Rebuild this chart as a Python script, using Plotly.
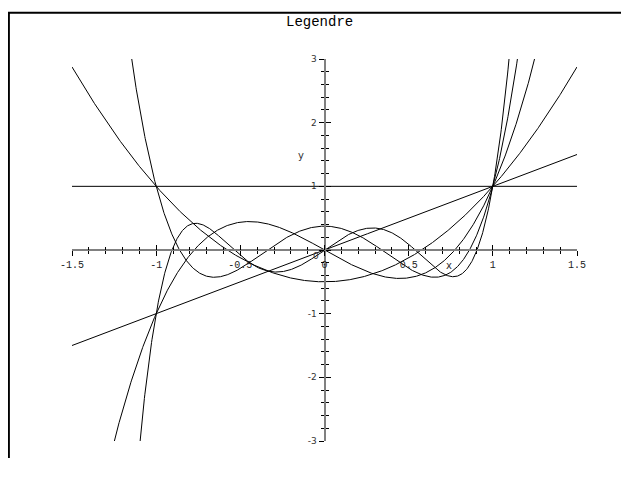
import numpy as np
import plotly.graph_objects as go

# Legendre polynomials P0..P5, coefficients in ascending powers of x
P0 = [1]
P1 = [0, 1]
P2 = [-0.5, 0, 1.5]
P3 = [0, -1.5, 0, 2.5]
P4 = [0.375, 0, -3.75, 0, 4.375]
P5 = [0, 1.875, 0, -8.75, 0, 7.875]
polys = [P0, P1, P2, P3, P4, P5]

x_range = [-1.5, 1.5]
y_range = [-3, 3]
x_ticks = [-1.5, -1, -0.5, 0, 0.5, 1, 1.5]
x_ticklabels = ["-1.5", "-1", "-0.5", "0", "0.5", "1", "1.5"]
y_ticks = [-3, -2, -1, 1, 2, 3]
y_ticklabels = ["-3", "-2", "-1", "1", "2", "3"]
title = "Legendre"

xs = np.linspace(x_range[0], x_range[1], 1201)

fig = go.Figure()
for c in polys:
    ys = np.polynomial.polynomial.polyval(xs, c)
    ys = np.where(np.abs(ys) > 3.5, np.nan, ys)
    fig.add_trace(go.Scatter(x=xs, y=ys, mode="lines",
                             line=dict(color="black", width=1),
                             showlegend=False, hoverinfo="skip"))
# invisible trace for the overlay axes
fig.add_trace(go.Scatter(x=[0], y=[0], xaxis="x2", yaxis="y2", mode="markers",
                         marker=dict(opacity=0), showlegend=False, hoverinfo="skip"))

mono = "Liberation Mono, Courier New, monospace"
sans = "DejaVu Sans, sans-serif"

common_x = dict(range=x_range, anchor="free", position=0.5, showgrid=False,
                zeroline=False, tickvals=x_ticks, ticklen=5, tickcolor="black",
                tickwidth=1)
common_y = dict(range=y_range, anchor="free", position=0.5, showgrid=False,
                zeroline=False, tickvals=y_ticks + [0], ticklen=5, tickcolor="black",
                tickwidth=1)

fig.update_layout(
    width=613, height=450,
    margin=dict(l=64, r=44, t=51, b=15),
    paper_bgcolor="white", plot_bgcolor="white",
    xaxis=dict(**common_x, showline=True, linecolor="#808080", linewidth=2,
               ticks="outside", ticktext=x_ticklabels,
               tickfont=dict(family=mono, size=10, color="#222"),
               minor=dict(ticks="outside", ticklen=3, dtick=0.1,
                          tick0=0, tickcolor="black", tickwidth=1)),
    xaxis2=dict(**common_x, overlaying="x", matches="x", showline=False,
                ticks="inside", showticklabels=False,
                minor=dict(ticks="inside", ticklen=3, dtick=0.1,
                           tick0=0, tickcolor="black", tickwidth=1)),
    yaxis=dict(**common_y, showline=True, linecolor="#808080", linewidth=2,
               ticks="outside", ticktext=y_ticklabels + [""],
               tickfont=dict(family=sans, size=9, color="#333"),
               minor=dict(ticks="outside", ticklen=3, dtick=0.2,
                          tick0=0, tickcolor="black", tickwidth=1)),
    yaxis2=dict(**common_y, overlaying="y", matches="y", showline=False,
                ticks="inside", showticklabels=False,
                minor=dict(ticks="inside", ticklen=3, dtick=0.2,
                           tick0=0, tickcolor="black", tickwidth=1)),
    shapes=[dict(type="path", xref="paper", yref="paper",
                 path="M -0.125,-0.3 L -0.125,1.121 L 1.3,1.121",
                 line=dict(color="black", width=2))],
    annotations=[
        dict(text=title, xref="paper", yref="paper", x=0.491, y=1.096,
             xanchor="center", yanchor="middle", showarrow=False,
             font=dict(family=mono, size=14, color="black")),
        dict(text="x", xref="x", yref="y", x=0.742, y=-0.25,
             xanchor="center", yanchor="middle", showarrow=False,
             font=dict(family=sans, size=10, color="#333")),
        dict(text="y", xref="x", yref="y", x=-0.142, y=1.48,
             xanchor="center", yanchor="middle", showarrow=False,
             font=dict(family=sans, size=10, color="#333")),
        dict(text="0", xref="x", yref="y", x=-0.05, y=-0.1,
             xanchor="center", yanchor="middle", showarrow=False,
             font=dict(family=sans, size=9, color="#333")),
    ],
)

fig.write_html("out.html")
